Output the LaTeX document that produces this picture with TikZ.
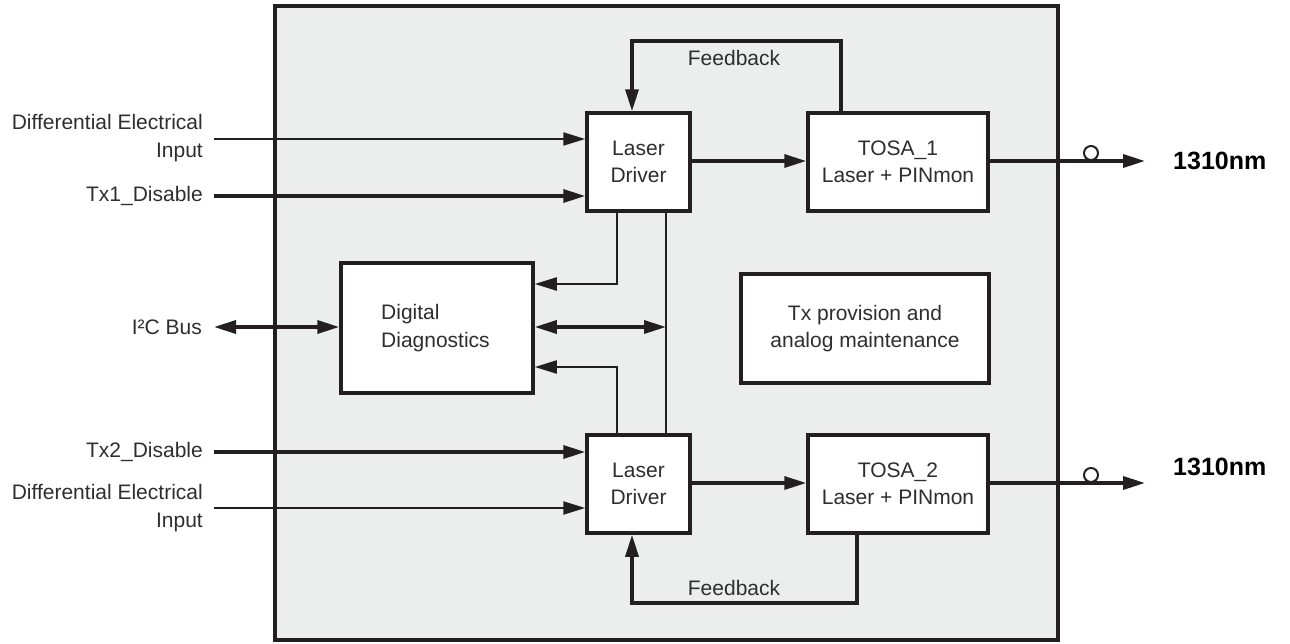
\documentclass[tikz,border=0pt]{standalone}
\usepackage{fontspec}
\setmainfont{Liberation Sans}
\usetikzlibrary{arrows.meta,calc}
\definecolor{ink}{HTML}{231F20}
\definecolor{panel}{HTML}{ECEEED}
\definecolor{txt}{HTML}{2E2E2E}
\newcommand\lblfont{\fontsize{21}{27.5}\selectfont}
\newcommand\wavefont{\bfseries\fontsize{25}{30}\selectfont}

\begin{document}
\begin{tikzpicture}[x=1pt,y=-1pt,
  >={Triangle[length=22pt,width=13pt]},
  box/.style={draw=ink, line width=3.5pt, fill=white, inner sep=0pt,
    text=txt, align=center, font=\lblfont},
  label/.style={inner sep=0pt, text=txt, font=\lblfont},
  heavy/.style={draw=ink, line width=3.5pt},
  light/.style={draw=ink, line width=2.2pt},
  medium/.style={draw=ink, line width=2.7pt},
  ring/.style={circle, draw=ink, line width=2pt, minimum size=14pt, inner sep=0pt},
  wave/.style={inner sep=0pt, text=black, font=\wavefont, anchor=west}]

\useasboundingbox (0,0) rectangle (1290,643);

% module outline
\node[draw=ink, line width=3.5pt, fill=panel, minimum width=783pt, minimum height=634pt,
      inner sep=0pt] (module) at (666.5,323) {};

% functional blocks
\node[box, minimum width=103pt, minimum height=98pt] (ld1) at (638.5,162) {Laser\\Driver};
\node[box, minimum width=180pt, minimum height=98pt] (tosa1) at (898,162) {TOSA\_1\\Laser + PINmon};
\node[box, minimum width=103pt, minimum height=98pt] (ld2) at (638.5,484) {Laser\\Driver};
\node[box, minimum width=180pt, minimum height=98pt] (tosa2) at (898,484) {TOSA\_2\\Laser + PINmon};
\node[box, minimum width=192pt, minimum height=130pt] (dd) at (437,328) {};
\node[label, anchor=west, align=left] (ddtext) at (381,328) {Digital\\Diagnostics};
\node[box, minimum width=248pt, minimum height=109pt] (prov) at (865,328.5) {Tx provision and\\analog maintenance};

% external signal labels
\node[label, anchor=east, align=right] (diff1) at (203,138) {Differential Electrical\\Input};
\node[label, anchor=east] (dis1) at (203,196) {Tx1\_Disable};
\node[label, anchor=east] (i2clbl) at (202,327) {I²C Bus};
\node[label, anchor=east] (dis2) at (203,452) {Tx2\_Disable};
\node[label, anchor=east, align=right] (diff2) at (203,508) {Differential Electrical\\Input};
\node[wave] (wave1) at (1173,161) {1310nm};
\node[wave] (wave2) at (1173,467) {1310nm};
\node[label] (fbtext1) at (734,58) {Feedback};
\node[label] (fbtext2) at (734,588) {Feedback};

% free line ends
\coordinate (in1) at (214,139);
\coordinate (en1) at (214,196);
\coordinate (en2) at (214,452);
\coordinate (in2) at (214,508);
\coordinate (i2c) at (214,327);
\coordinate (out1) at (1145,161);
\coordinate (out2) at (1145,483);
\coordinate (fb1r) at (841,41);
\coordinate (fb1l) at (632,41);
\coordinate (fb2r) at (857,603);
\coordinate (fb2l) at (632,603);
\coordinate (tap1) at (617,284);
\coordinate (tap2) at (617,367);
\coordinate (bus) at (666,327);

% inputs
\draw[light,->] (in1) -- (in1 -| ld1.west);
\draw[heavy,->] (en1) -- (en1 -| ld1.west);
\draw[heavy,->] (en2) -- (en2 -| ld2.west);
\draw[light,->] (in2) -- (in2 -| ld2.west);
\draw[heavy,<->] (i2c) -- (i2c -| dd.west);

% driver to optics
\draw[heavy,->] (ld1.east |- 0,161) -- (tosa1.west |- 0,161);
\draw[heavy,->] (ld2.east |- 0,483) -- (tosa2.west |- 0,483);

% optical outputs
\draw[heavy,->] (tosa1.east |- out1) -- (out1);
\draw[heavy,->] (tosa2.east |- out2) -- (out2);
\node[ring] (ring1) at (1091,153) {};
\node[ring] (ring2) at (1091,475) {};

% feedback loops
\draw[heavy,->] (fb1r |- tosa1.north) -- (fb1r) -- (fb1l) -- (fb1l |- ld1.north);
\draw[heavy,->] (fb2r |- tosa2.south) -- (fb2r) -- (fb2l) -- (fb2l |- ld2.south);

% monitoring paths to diagnostics
\draw[light,->] (tap1 |- ld1.south) -- (tap1) -- (tap1 -| dd.east);
\draw[light,->] (tap2 |- ld2.north) -- (tap2) -- (tap2 -| dd.east);
\draw[medium] (bus |- ld1.south) -- (bus |- ld2.north);
\draw[heavy,<->] (bus -| dd.east) -- (bus);

\end{tikzpicture}
\end{document}
